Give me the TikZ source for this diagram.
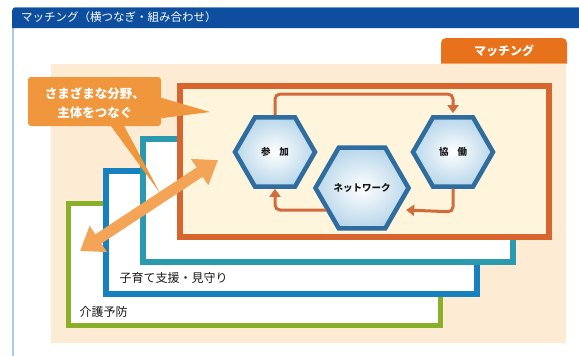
\documentclass[tikz,border=0pt]{standalone}
\usepackage{fontspec}
\setmainfont{Noto Sans CJK JP}
\usetikzlibrary{shapes.geometric,arrows.meta,shadows}
\definecolor{titleblue}{HTML}{0D4F9E}
\definecolor{framecol}{HTML}{A9CBE6}
\definecolor{peach}{HTML}{FDEBD3}
\definecolor{tabor}{HTML}{E8721C}
\definecolor{calloutor}{HTML}{F0963C}
\definecolor{arrowor}{HTML}{F3A456}
\definecolor{grn}{HTML}{8AB02A}
\definecolor{blu}{HTML}{1780BE}
\definecolor{tea}{HTML}{2A9AAE}
\definecolor{orr}{HTML}{D8642E}
\definecolor{cream}{HTML}{FEF5DC}
\definecolor{hexborder}{HTML}{2E6D9E}
\definecolor{hexfill}{HTML}{B9D7EA}
\definecolor{cyc}{HTML}{D26A3C}
\begin{document}
\begin{tikzpicture}[x=1pt,y=-1pt,
  layer/.style={line width=6pt, fill=white, drop shadow={shadow xshift=2pt, shadow yshift=-3pt, opacity=0.22}},
  hexa/.style={regular polygon, regular polygon sides=6, minimum size=80pt, inner sep=0pt,
    draw=hexborder, line width=4.5pt, inner color=white, outer color=hexfill,
    font=\bfseries\fontsize{9.5}{10}\selectfont, text=black!90,
    drop shadow={shadow xshift=1.5pt, shadow yshift=-2pt, opacity=0.2}},
  cycarrow/.style={draw=cyc, line width=3pt, rounded corners=5pt, -{Triangle[length=8pt,width=11pt]}},
  lbl/.style={anchor=west, font=\fontsize{12}{13}\selectfont, text=black!90}
]
\useasboundingbox (0,0) rectangle (579,356);
% frame
\fill[white] (0,0) rectangle (579,356);
\draw[framecol, line width=1.5pt] (13,28) -- (13,356);
\path[fill=titleblue] (12,28) [rounded corners=4pt] -- (12,7) [sharp corners] -- (579,7) -- (579,28) -- cycle;
\draw[framecol!60!titleblue, line width=0.8pt] (15,7.4) -- (579,7.4);
\node[anchor=west, text=white, font=\fontsize{11.5}{12}\selectfont, inner sep=0pt] (title) at (21,17.5) {マッチング（横つなぎ・組み合わせ）};
% peach area
\fill[peach] (51,64) rectangle (566,343);
\path[fill=tabor, rounded corners=5pt] (441,63.5) -- (441,38) -- (567,38) [sharp corners] -- (567,63.5) -- cycle;
\node[text=white, font=\bfseries\fontsize{12}{12}\selectfont] (tab) at (504,50.5) {マッチング};
% layers
\draw[layer, draw=grn, line width=5pt] (68,203) rectangle (440,325);
\draw[layer, draw=blu] (106,171) rectangle (477,294);
\draw[layer, draw=tea] (143,139) rectangle (513,262);
\draw[layer, draw=orr, fill=cream] (180,86) rectangle (549,237);
\node[lbl] (lblB) at (116,278) {子育て支援・見守り};
\node[lbl] (lblG) at (76,312) {介護予防};
% callout
\fill[calloutor, rounded corners=3pt] (28,77) rectangle (161,126);
\fill[calloutor] (155,96) -- (210,112) -- (155,119) -- cycle;
\fill[calloutor] (108,122) -- (160,193) -- (122,122) -- cycle;
\node[text=white, font=\bfseries\fontsize{12.5}{19}\selectfont, align=center] (callout) at (95,103) {さまざまな分野、\\主体をつなぐ};
% double arrow
\coordinate (aL) at (80,251);
\coordinate (aR) at (218,160);
\draw[arrowor, line width=11pt, {Triangle[length=22pt,width=30pt]}-{Triangle[length=22pt,width=30pt]}] (aL) -- (aR);
% hexagons and cycle
\node[hexa] (sanka) at (275,152) {参\hspace{9pt}加};
\node[hexa] (kyodo) at (453,152) {協\hspace{9pt}働};
\node[hexa] (net) at (362,188) {ネットワーク};
\draw[cycarrow] (sanka.north) -- ++(0,-21) -| ([yshift=2pt]kyodo.north);
\draw[cycarrow] (kyodo.south) -- ++(0,23) -- ([xshift=-5pt,yshift=-22pt]net.east);
\draw[cycarrow] ([xshift=13pt,yshift=-22pt]net.west) -| (sanka.south);
\end{tikzpicture}
\end{document}
